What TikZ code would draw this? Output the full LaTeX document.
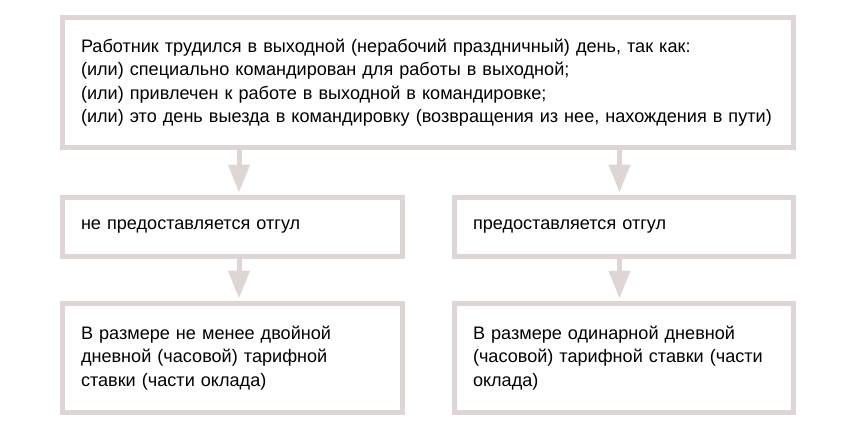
\documentclass[tikz,border=0pt]{standalone}
\usepackage{fontspec}
\setmainfont{Liberation Sans}
\usetikzlibrary{arrows.meta}
\definecolor{boxgray}{RGB}{222,214,212}

\begin{document}
\begin{tikzpicture}[x=1pt, y=-1pt, line width=5pt,
	main/.style = {draw=boxgray, rectangle, align=left, inner xsep=18.5pt, font=\fontsize{18.1}{23.5}\selectfont},
	arr/.style = {draw=boxgray, -{Triangle[length=28pt, width=21pt]}, shorten >=2.5pt}]
	\useasboundingbox (0,0) rectangle (851,428);
	\node[main, minimum width=731pt, minimum height=130pt, text width=694pt] (1) at (428,82.5) {Работник трудился в выходной (нерабочий праздничный) день, так как:\\(или) специально командирован для работы в выходной;\\(или) привлечен к работе в выходной в командировке;\\(или) это день выезда в командировку (возвращения из нее, нахождения в пути)};
	\node[main, minimum width=340pt, minimum height=59pt, text width=303pt] (2) at (232.5,227) {не предоставляется отгул};
	\node[main, minimum width=339pt, minimum height=59pt, text width=302pt] (3) at (624,227) {предоставляется отгул};
	\node[main, minimum width=340pt, minimum height=108.5pt, text width=303pt] (4) at (232.5,357.75) {В размере не менее двойной\\дневной (часовой) тарифной\\ставки (части оклада)};
	\node[main, minimum width=339pt, minimum height=108.5pt, text width=302pt] (5) at (624,357.75) {В размере одинарной дневной\\(часовой) тарифной ставки (части\\оклада)};
	\draw[arr] ([xshift=6.5pt]2.north |- 1.south) -- ([xshift=6.5pt]2.north);
	\draw[arr] ([xshift=-4.5pt]3.north |- 1.south) -- ([xshift=-4.5pt]3.north);
	\draw[arr] ([xshift=6.5pt]2.south) -- ([xshift=6.5pt]4.north);
	\draw[arr] ([xshift=-4.5pt]3.south) -- ([xshift=-4.5pt]5.north);

	%\caption{Otgul}
\end{tikzpicture}
\end{document}
